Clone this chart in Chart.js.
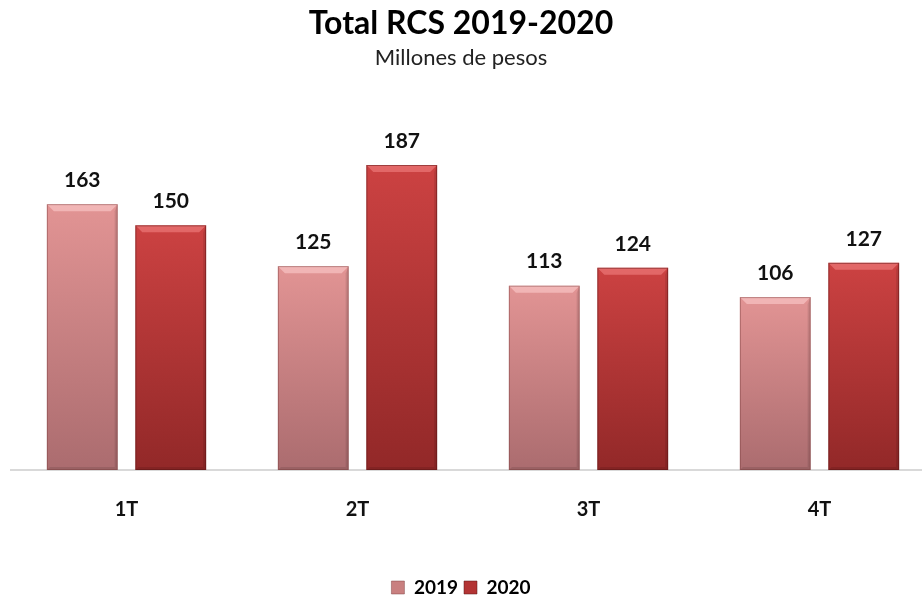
<!DOCTYPE html>
<html>
<head>
<meta charset="utf-8">
<script src="https://cdn.jsdelivr.net/npm/chart.js@4"></script>
<style>
  html, body { margin:0; padding:0; background:#fff; overflow:hidden; width:922px; height:597px; }
  #wrap { position:absolute; left:-13px; top:0; width:948px; height:607px; }
</style>
</head>
<body>
<div id="wrap"><canvas id="c"></canvas></div>
<script>
const categories = ['1T', '2T', '3T', '4T'];
const seriesNames = ['2019', '2020'];
const values2019 = [163, 125, 113, 106];
const values2020 = [150, 187, 124, 127];
const titleText = 'Total RCS 2019-2020';
const subtitleText = 'Millones de pesos';

const FONT = 'Lato, "Open Sans", sans-serif';
const palettes = [
  { top: '#e29494', bottom: '#ab6c6f', light: 'rgba(255,210,210,0.55)', edge: 'rgba(120,60,60,0.45)', legend: '#c98080' },
  { top: '#cc4242', bottom: '#922828', light: 'rgba(255,150,150,0.45)', edge: 'rgba(90,20,20,0.5)', legend: '#b33434' }
];

function barGradient(ctx, pal) {
  const chart = ctx.chart;
  if (!chart.chartArea || ctx.dataIndex === undefined) return pal.legend;
  const ys = chart.scales.y;
  const v = ctx.dataset.data[ctx.dataIndex];
  const top = ys.getPixelForValue(v);
  const base = ys.getPixelForValue(0);
  const g = chart.ctx.createLinearGradient(0, top, 0, base);
  g.addColorStop(0, pal.top);
  g.addColorStop(1, pal.bottom);
  return g;
}

const bevelPlugin = {
  id: 'bevel',
  afterDatasetsDraw(chart) {
    const ctx = chart.ctx;
    chart.data.datasets.forEach((ds, di) => {
      const pal = palettes[di];
      chart.getDatasetMeta(di).data.forEach(bar => {
        const l = bar.x - bar.width / 2, r = bar.x + bar.width / 2;
        const t = bar.y, b = bar.base, d = 7;
        ctx.save();
        ctx.fillStyle = pal.light;
        ctx.beginPath();
        ctx.moveTo(l, t); ctx.lineTo(r, t); ctx.lineTo(r - d, t + d); ctx.lineTo(l + d, t + d); ctx.closePath();
        ctx.fill();
        ctx.fillStyle = 'rgba(0,0,0,0.10)';
        ctx.beginPath();
        ctx.moveTo(r, t); ctx.lineTo(r, b); ctx.lineTo(r - 3, b - 3); ctx.lineTo(r - 3, t + d); ctx.closePath();
        ctx.fill();
        ctx.beginPath();
        ctx.moveTo(l, b); ctx.lineTo(r, b); ctx.lineTo(r - 3, b - 3); ctx.lineTo(l + 3, b - 3); ctx.closePath();
        ctx.fill();
        ctx.strokeStyle = pal.edge;
        ctx.lineWidth = 1;
        ctx.strokeRect(l + 0.5, t + 0.5, bar.width - 1, b - t - 1);
        ctx.restore();
      });
    });
  }
};

const valueLabels = {
  id: 'valueLabels',
  afterDatasetsDraw(chart) {
    const ctx = chart.ctx;
    ctx.save();
    ctx.font = 'bold 21px ' + FONT;
    ctx.fillStyle = '#111';
    ctx.textAlign = 'center';
    ctx.textBaseline = 'middle';
    chart.data.datasets.forEach((ds, di) => {
      chart.getDatasetMeta(di).data.forEach((bar, i) => {
        ctx.fillText(String(ds.data[i]), bar.x, bar.y - 24);
      });
    });
    ctx.restore();
  }
};

new Chart(document.getElementById('c'), {
  type: 'bar',
  data: {
    labels: categories,
    datasets: [
      { label: seriesNames[0], data: values2019, backgroundColor: c => barGradient(c, palettes[0]) },
      { label: seriesNames[1], data: values2020, backgroundColor: c => barGradient(c, palettes[1]) }
    ]
  },
  options: {
    responsive: true,
    maintainAspectRatio: false,
    animation: false,
    datasets: { bar: { categoryPercentage: 0.766, barPercentage: 0.8 } },
    layout: { padding: 0 },
    plugins: {
      title: {
        display: true, text: titleText, color: '#000',
        font: { family: FONT, size: 32, weight: 'bold' },
        padding: { top: 4, bottom: 0 }
      },
      subtitle: {
        display: true, text: subtitleText, color: '#222',
        font: { family: FONT, size: 22 },
        padding: { top: 2, bottom: 73 }
      },
      legend: {
        position: 'bottom',
        labels: {
          color: '#111', font: { family: FONT, size: 19, weight: 'bold' },
          boxWidth: 13, boxHeight: 13, padding: 6,
          generateLabels(chart) {
            return chart.data.datasets.map((ds, i) => ({
              text: ds.label, fillStyle: palettes[i].legend, strokeStyle: palettes[i].edge,
              lineWidth: 1, datasetIndex: i, hidden: false
            }));
          }
        }
      },
      tooltip: { enabled: false }
    },
    scales: {
      x: {
        grid: { display: false },
        border: { display: true, color: '#d9d9d9', width: 2 },
        ticks: { color: '#111', font: { family: FONT, size: 20, weight: 'bold' }, padding: 20 },
        afterFit(scale) { scale.height = 102; }
      },
      y: {
        display: true, min: 0, max: 200,
        grid: { display: false },
        border: { display: false },
        ticks: { display: false },
        afterFit(scale) { scale.width = 24; }
      }
    }
  },
  plugins: [bevelPlugin, valueLabels]
});
</script>
</body>
</html>
